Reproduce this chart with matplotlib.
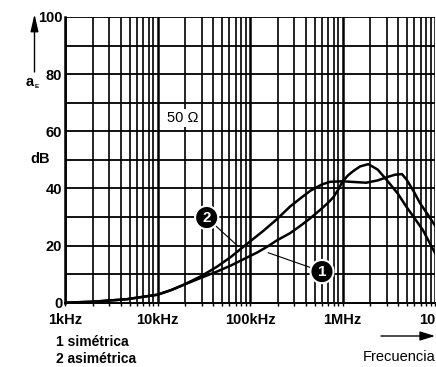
import numpy as np
import matplotlib.pyplot as plt
from matplotlib.ticker import FixedLocator, NullFormatter
from matplotlib.patches import FancyArrowPatch

plt.rcParams['font.family'] = ['Liberation Sans', 'DejaVu Sans']

# frecuencia en kHz, atenuacion en dB
sim_f = [1, 2, 4.6, 10, 14, 19, 30, 44, 62, 85, 120, 157, 195, 270, 347, 450,
         570, 700, 800, 900, 1000, 1150, 1310, 1550, 1900, 2400, 3000, 4000,
         4900, 6000, 7400, 10000]
sim_db = [0, 0.35, 1.2, 2.8, 4.4, 6.2, 8.8, 10.9, 13, 15.2, 17.6, 19.8, 21.8,
          24.3, 26.8, 29.6, 32.4, 35, 37, 39.6, 42.4, 44.6, 46.1, 47.7, 48.5,
          46.6, 43, 38, 33.6, 29.6, 25.4, 17.4]

asim_f = [1, 2, 4.6, 10, 14, 19, 30, 44, 62, 85, 140, 195, 270, 347, 450, 600,
          730, 1000, 1400, 1800, 2400, 3000, 3700, 4400, 4950, 5900, 6900,
          8300, 10000]
asim_db = [0, 0.35, 1.2, 2.8, 4.4, 6.2, 9.4, 12.6, 16, 19.6, 25.2, 29.2, 33.6,
           36.4, 39.2, 41.4, 42.3, 42.5, 42.2, 42, 42.8, 43.9, 44.8, 45, 43,
           38.9, 34.8, 31, 27]

x_ticks = [1, 10, 100, 1000, 10000]
x_labels = ['1kHz', '10kHz', '100kHz', '1MHz', '10']
y_ticks = [0, 20, 40, 60, 80, 100]

W, H = 436, 367
fig = plt.figure(figsize=(W / 100, H / 100), dpi=100)
ax = fig.add_axes([65 / W, 1 - 302.7 / H, 370 / W, (302.7 - 17) / H])

ax.set_xscale('log')
ax.set_xlim(1, 10000)
ax.set_ylim(0, 100)

# rejilla
minor = [m * 10 ** d for d in range(4) for m in range(2, 10)]
for v in minor:
    ax.axvline(v, color='black', lw=1.2, zorder=1)
for v in x_ticks:
    ax.axvline(v, color='black', lw=1.8, zorder=1)
for v in range(10, 101, 10):
    ax.axhline(v, color='black', lw=1.3, zorder=1)

ax.plot(sim_f, sim_db, color='black', lw=1.8, zorder=3, solid_joinstyle='round')
ax.plot(asim_f, asim_db, color='black', lw=1.8, zorder=3, solid_joinstyle='round')

for s in ['top', 'right']:
    ax.spines[s].set_visible(False)
ax.spines['left'].set_linewidth(1.8)
ax.spines['bottom'].set_linewidth(1.4)

ax.xaxis.set_major_locator(FixedLocator(x_ticks))
ax.xaxis.set_minor_locator(FixedLocator(minor))
ax.xaxis.set_minor_formatter(NullFormatter())
ax.set_xticklabels(x_labels, fontsize=10.5, fontweight='bold')
ax.xaxis.get_ticklabels()[-1].set_ha('right')
ax.tick_params(axis='x', which='both', direction='out', length=2.2, width=1, pad=5)
ax.set_yticks(y_ticks)
ax.set_yticklabels([str(v) for v in y_ticks], fontsize=10.5, fontweight='bold')
ax.tick_params(axis='y', length=0, pad=2)

# etiquetas de las curvas
circ = dict(boxstyle='circle,pad=0.3', fc='black', ec='white', lw=1.5)
ax.annotate('2', xy=(74, 19.8), xytext=(34, 29.8), color='white', fontsize=11,
            fontweight='bold', ha='center', va='center', bbox=circ, zorder=5,
            arrowprops=dict(arrowstyle='-', color='black', lw=0.8, shrinkA=0, shrinkB=0))
ax.annotate('1', xy=(157, 17.5), xytext=(600, 10.9), color='white', fontsize=11,
            fontweight='bold', ha='center', va='center', bbox=circ, zorder=5,
            arrowprops=dict(arrowstyle='-', color='black', lw=0.8, shrinkA=0, shrinkB=0))

ax.text(18.9, 64.6, '50 \u03a9', fontsize=10.5, ha='center', va='center', zorder=4,
        bbox=dict(fc='white', ec='none', pad=1.5))

# textos fuera del eje
def fx(px):
    return px / W

def fy(py):
    return 1 - py / H

fig.text(fx(29.5), fy(82), 'a', fontsize=10.5, fontweight='bold', ha='center', va='center')
fig.text(fx(36.5), fy(87), 'E', fontsize=4.5, fontweight='bold', ha='center', va='center')
fig.text(fx(40), fy(159), 'dB', fontsize=10.5, fontweight='bold', ha='center', va='center')
fig.add_artist(FancyArrowPatch(
    (fx(34.5), fy(72)), (fx(34.5), fy(14)), transform=fig.transFigure,
    arrowstyle='-|>,head_length=0.75,head_width=0.17', color='black', lw=1,
    mutation_scale=14, shrinkA=0, shrinkB=0))

fig.text(fx(56), fy(342), '1 simétrica', fontsize=10, fontweight='bold', ha='left', va='center')
fig.text(fx(56), fy(359), '2 asimétrica', fontsize=10, fontweight='bold', ha='left', va='center')

fig.add_artist(FancyArrowPatch(
    (fx(381), fy(336)), (fx(435), fy(336)), transform=fig.transFigure,
    arrowstyle='-|>,head_length=0.65,head_width=0.2', color='black', lw=1,
    mutation_scale=14, shrinkA=0, shrinkB=0))
fig.text(fx(435), fy(357), 'Frecuencia', fontsize=10.5, ha='right', va='center')

fig.savefig('out.png', dpi=100)
